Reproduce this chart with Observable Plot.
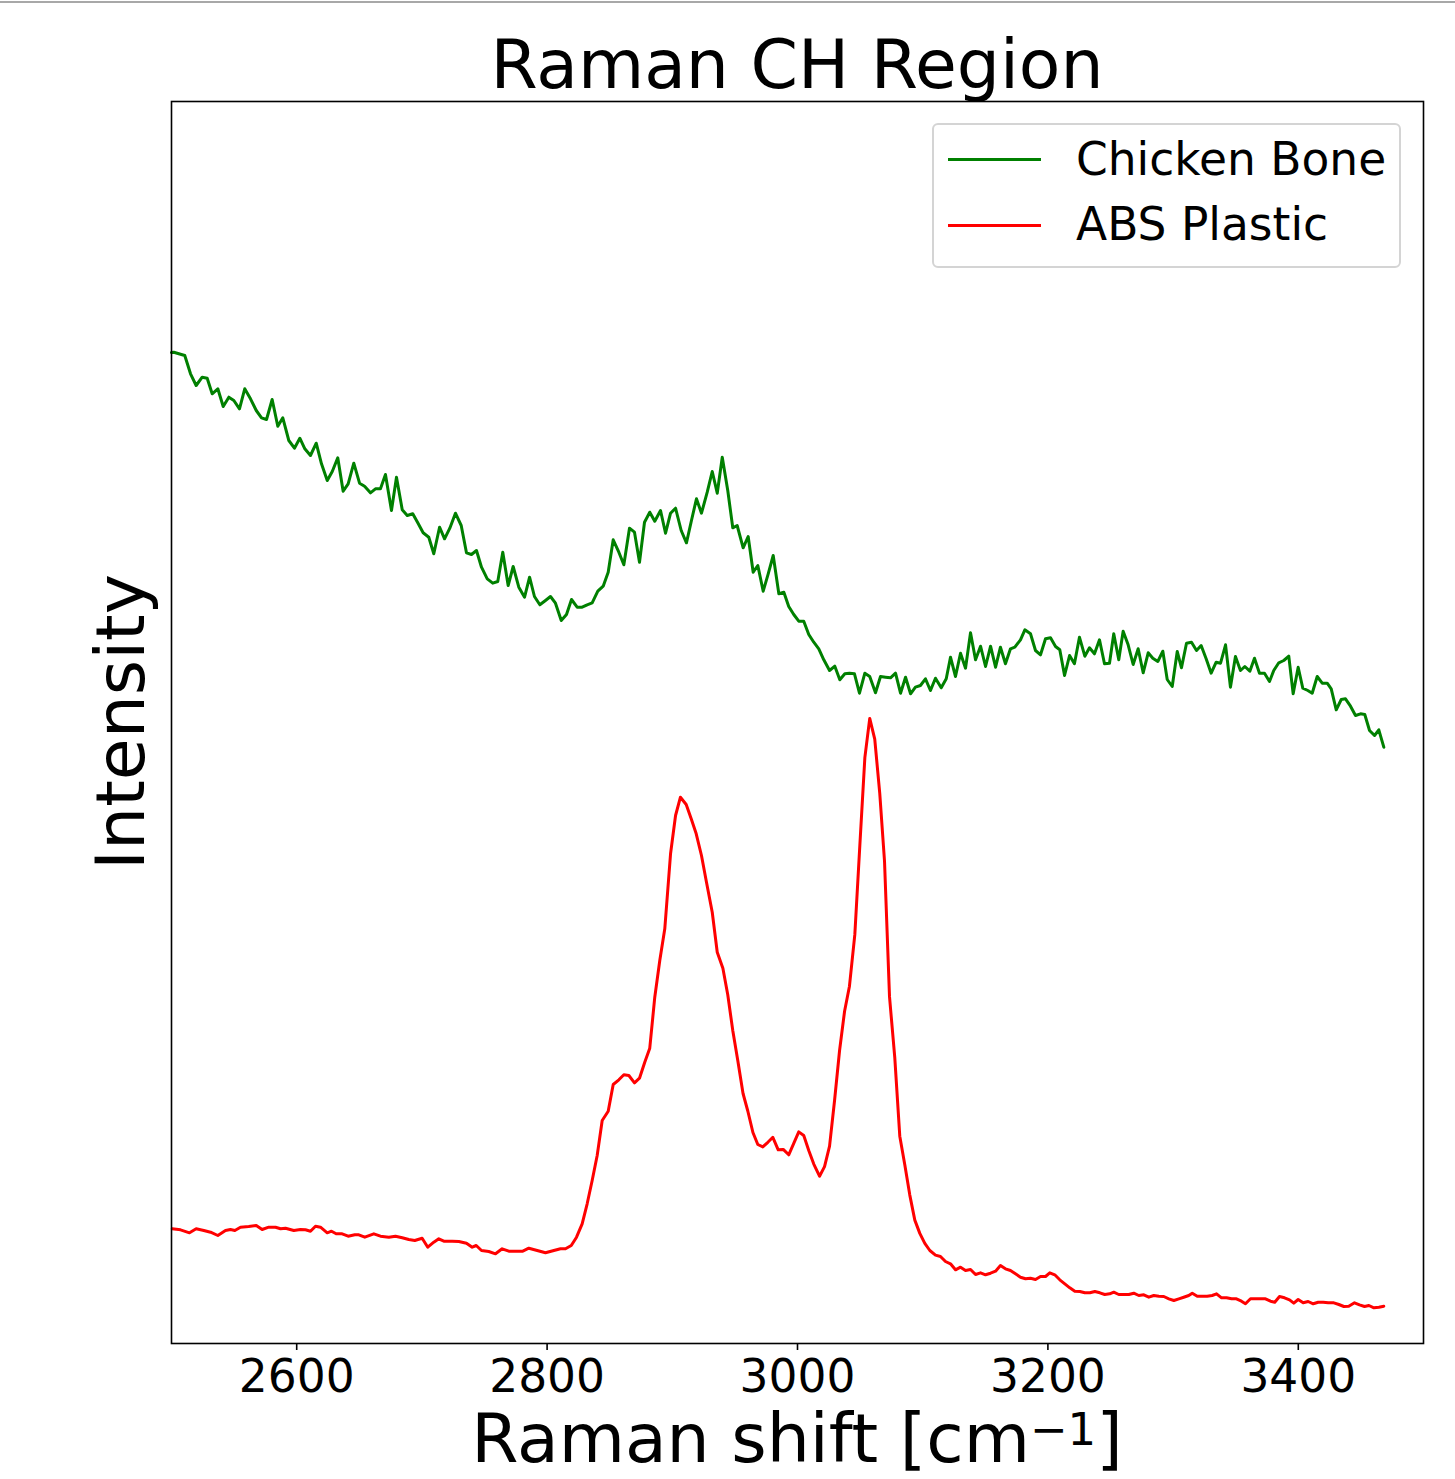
<!DOCTYPE html>
<html>
<head>
<meta charset="utf-8">
<script src="https://cdn.jsdelivr.net/npm/d3@7"></script>
<script src="https://cdn.jsdelivr.net/npm/@observablehq/plot@0.6"></script>
<style>
  html, body { margin: 0; padding: 0; background: #ffffff; }
  body { position: relative; width: 1455px; height: 1479px; overflow: hidden; font-family: "DejaVu Sans", sans-serif; color: #000; }
  #topline { position: absolute; left: 0; top: 1px; width: 1455px; height: 2px; background: #a8a8a8; }
  #title { position: absolute; left: 171px; top: 30.5px; width: 1252px; text-align: center; font-size: 68px; line-height: 68px; white-space: nowrap; }
  #chart { position: absolute; left: 0; top: 96px; }
  #xlabel { position: absolute; left: 171px; top: 1409px; width: 1252px; text-align: center; font-size: 68px; line-height: 60px; white-space: nowrap; }
  #xlabel .sup { display: inline-block; font-size: 45px; line-height: 24px; height: 24px; vertical-align: 17px; }
  #ylabel { position: absolute; left: -79.5px; top: 688px; width: 400px; height: 68px; text-align: center; font-size: 68px; line-height: 68px; white-space: nowrap; transform: rotate(-90deg); transform-origin: 50% 50%; }
  #legend { position: absolute; left: 932px; top: 123px; width: 465px; height: 141px; border: 2px solid #d4d4d4; border-radius: 6px; background: rgba(255,255,255,0.8); }
  .swatch { position: absolute; left: 948px; width: 93px; height: 3px; }
  .ltext { position: absolute; left: 1076px; font-size: 45.5px; line-height: 45.5px; white-space: nowrap; }
</style>
</head>
<body>
<div id="topline"></div>
<div id="title">Raman CH Region</div>
<div id="chart"></div>
<div id="xlabel">Raman shift [cm<span class="sup">−1</span>]</div>
<div id="ylabel">Intensity</div>
<div id="legend"></div>
<div class="swatch" style="top:158px;background:#008000"></div>
<div class="ltext" style="top:136.5px">Chicken Bone</div>
<div class="swatch" style="top:224px;background:#ff0000"></div>
<div class="ltext" style="top:201.5px">ABS Plastic</div>
<script>
// Series names and colours
const seriesNames = ["Chicken Bone", "ABS Plastic"];
const seriesColors = ["#008000", "#ff0000"];

// X tick labels (Raman shift, cm^-1)
const xTicks = [2600, 2800, 3000, 3200, 3400];

// Chicken Bone: Raman shift (cm^-1)
const greenShift = [2500.0, 2501.8, 2510.6, 2515.2, 2519.7, 2524.5, 2528.5, 2532.5, 2537.0, 2541.3, 2545.8, 2549.8, 2554.3, 2558.5, 2563.1, 2567.7, 2571.9, 2575.9, 2580.4, 2584.9, 2588.9, 2593.7, 2598.2, 2602.5, 2606.5, 2611.0, 2615.6, 2619.8, 2624.4, 2628.4, 2632.8, 2637.1, 2641.1, 2645.6, 2650.2, 2654.2, 2658.9, 2662.9, 2666.9, 2670.9, 2675.7, 2679.7, 2684.3, 2688.3, 2692.7, 2696.7, 2701.0, 2705.5, 2709.5, 2714.1, 2718.1, 2722.3, 2726.8, 2731.4, 2735.6, 2739.6, 2743.6, 2747.6, 2752.2, 2756.6, 2760.6, 2764.6, 2768.9, 2772.9, 2777.4, 2782.0, 2786.0, 2789.9, 2794.2, 2798.7, 2802.7, 2806.7, 2811.3, 2815.5, 2819.5, 2824.0, 2828.0, 2832.0, 2836.0, 2840.5, 2844.8, 2848.8, 2852.8, 2857.3, 2861.3, 2865.8, 2869.8, 2873.8, 2877.8, 2882.0, 2886.0, 2890.6, 2894.6, 2898.6, 2902.6, 2907.1, 2911.3, 2915.3, 2919.3, 2923.3, 2927.9, 2931.9, 2935.9, 2939.9, 2944.3, 2948.3, 2951.8, 2956.6, 2960.6, 2964.6, 2968.3, 2972.6, 2976.6, 2980.6, 2985.1, 2989.1, 2993.0, 2997.0, 3001.0, 3005.0, 3009.0, 3013.0, 3017.0, 3021.0, 3025.6, 3029.8, 3033.8, 3037.8, 3041.5, 3045.5, 3049.5, 3053.8, 3057.7, 3062.3, 3066.3, 3070.3, 3074.3, 3078.3, 3082.3, 3086.3, 3090.3, 3094.2, 3098.2, 3102.2, 3106.2, 3110.2, 3114.8, 3118.8, 3122.2, 3126.2, 3130.2, 3134.2, 3138.2, 3142.2, 3146.2, 3150.2, 3154.2, 3158.2, 3162.1, 3166.1, 3170.1, 3173.6, 3178.1, 3181.6, 3186.1, 3190.1, 3194.1, 3198.1, 3202.1, 3206.1, 3209.5, 3213.3, 3217.3, 3221.2, 3225.2, 3229.5, 3233.2, 3237.2, 3241.2, 3245.2, 3249.2, 3252.6, 3256.6, 3260.1, 3264.1, 3268.1, 3272.1, 3276.1, 3280.1, 3283.8, 3287.8, 3291.8, 3295.3, 3299.3, 3303.3, 3306.7, 3310.7, 3314.7, 3318.7, 3322.4, 3326.4, 3330.4, 3334.4, 3337.9, 3341.9, 3345.8, 3349.8, 3353.8, 3357.3, 3361.3, 3365.0, 3369.0, 3373.0, 3377.0, 3380.4, 3384.4, 3388.4, 3392.4, 3395.9, 3399.9, 3403.6, 3407.6, 3411.1, 3415.1, 3419.1, 3423.1, 3426.3, 3430.3, 3434.3, 3437.7, 3441.7, 3445.7, 3449.7, 3453.1, 3456.9, 3460.9, 3464.3, 3468.3];

// Chicken Bone: intensity (a.u.)
const greenIntensity = [991, 991.3, 988, 969.7, 958, 966.3, 965.3, 949.7, 954.7, 937, 946.3, 943, 934.7, 954.7, 944.7, 933, 925.7, 924, 944, 917.3, 925.7, 903, 895.3, 905.3, 894.7, 888, 900.3, 879.7, 863, 872, 885.7, 852.3, 859.7, 880.3, 860.3, 857.3, 850.7, 854.7, 854.7, 869, 833, 866.3, 833.7, 828, 829.7, 820.7, 810.7, 806.3, 789.7, 816.3, 804.7, 815.3, 830.3, 818, 790.7, 789, 793, 776.3, 764.7, 760.3, 762, 791.3, 758, 777, 756.3, 746.3, 766.3, 747, 738.7, 743, 747, 740.3, 723, 729, 744, 736.3, 736.3, 738.7, 740.7, 752.3, 757.3, 771.3, 803.7, 791.3, 778.7, 815.3, 811.3, 781.3, 821.3, 831.3, 822.3, 833, 810.3, 830.3, 835.3, 813, 800.7, 823, 844.7, 830.3, 851.3, 872, 850.3, 886.3, 853, 815.7, 818, 795.7, 807, 771.3, 778, 752.3, 769.7, 788, 749.7, 751.3, 737, 729, 722.3, 722.3, 709, 701.3, 694.7, 683.7, 673, 677.3, 663.7, 669.7, 670.3, 669.7, 650.3, 670.3, 667, 650.7, 667, 666.3, 665.7, 670.3, 650.3, 666.3, 649.7, 656.3, 658, 664.7, 653, 665.3, 655.7, 664.7, 686.3, 667, 690.3, 675.3, 710.7, 683.7, 697.3, 677, 697.3, 676.3, 696.3, 679.7, 694.7, 696.3, 703.7, 713.7, 709.7, 693, 688.7, 704.7, 705.7, 697, 693.7, 668, 688, 679.7, 706.3, 687.3, 695.7, 689.7, 703.7, 679.7, 680.3, 709.7, 683.7, 712.3, 698.7, 679, 694.7, 670.7, 690.7, 685.3, 682, 692.3, 664, 657, 692, 675.7, 700.3, 701.3, 693, 698, 684.7, 670.3, 681.3, 680.3, 698.7, 656.3, 687, 673, 677, 672.3, 685.3, 670.3, 670.3, 662, 673, 680.7, 683, 687.3, 649.7, 676.3, 655.3, 653, 650.3, 667, 660.3, 660.3, 654.7, 633.7, 644, 644.7, 637.3, 628, 629.7, 629, 613, 608, 613.7, 596.3];

// ABS Plastic: Raman shift (cm^-1)
const redShift = [2500.6, 2507.2, 2514.4, 2519.7, 2525.8, 2531.2, 2537.0, 2543.1, 2547.1, 2550.6, 2555.1, 2561.7, 2567.7, 2572.4, 2577.7, 2583.1, 2587.1, 2591.1, 2597.7, 2603.0, 2607.0, 2611.0, 2615.0, 2619.0, 2624.4, 2627.8, 2631.5, 2636.3, 2641.1, 2646.4, 2649.6, 2654.4, 2661.6, 2666.9, 2673.6, 2678.9, 2684.3, 2689.5, 2694.3, 2700.2, 2704.7, 2709.5, 2713.5, 2717.5, 2724.2, 2729.5, 2735.6, 2740.2, 2743.4, 2747.6, 2753.4, 2758.8, 2764.1, 2769.4, 2774.8, 2780.6, 2785.4, 2792.1, 2798.7, 2805.4, 2810.7, 2814.7, 2819.3, 2823.5, 2828.0, 2832.0, 2836.0, 2840.0, 2844.0, 2848.8, 2852.8, 2857.3, 2861.3, 2865.3, 2869.8, 2873.8, 2878.0, 2882.0, 2886.0, 2890.0, 2894.0, 2898.6, 2902.6, 2906.5, 2911.1, 2915.1, 2919.1, 2923.3, 2927.3, 2931.9, 2935.9, 2940.4, 2944.3, 2948.3, 2952.3, 2956.5, 2960.3, 2964.4, 2968.3, 2972.3, 2976.3, 2980.3, 2984.6, 2988.6, 2993.0, 2997.0, 3001.0, 3005.0, 3009.0, 3013.0, 3017.6, 3021.6, 3025.6, 3029.6, 3033.6, 3037.6, 3041.5, 3045.8, 3049.8, 3053.8, 3057.7, 3061.7, 3065.7, 3069.5, 3073.5, 3077.7, 3081.7, 3085.7, 3089.7, 3093.7, 3097.7, 3101.7, 3105.7, 3110.2, 3114.2, 3118.2, 3122.2, 3126.2, 3130.2, 3134.2, 3138.2, 3142.2, 3146.2, 3150.2, 3154.2, 3158.2, 3162.1, 3166.1, 3170.1, 3174.1, 3178.1, 3182.1, 3186.1, 3190.1, 3194.1, 3198.1, 3201.5, 3205.5, 3209.5, 3213.5, 3217.5, 3221.5, 3225.5, 3229.5, 3233.5, 3237.5, 3241.5, 3245.4, 3249.4, 3252.6, 3256.6, 3260.6, 3264.6, 3268.6, 3272.6, 3276.6, 3280.6, 3284.6, 3288.6, 3292.6, 3296.6, 3300.6, 3304.6, 3308.5, 3312.5, 3315.3, 3319.3, 3323.2, 3327.2, 3331.2, 3334.7, 3338.7, 3342.7, 3346.7, 3350.6, 3354.6, 3357.8, 3361.8, 3365.8, 3369.8, 3373.8, 3377.8, 3381.2, 3385.0, 3389.0, 3393.0, 3396.4, 3399.9, 3403.9, 3407.9, 3411.9, 3415.9, 3419.9, 3423.9, 3428.4, 3432.4, 3436.4, 3440.3, 3444.9, 3448.9, 3452.9, 3456.4, 3460.4, 3464.4, 3468.3];

// ABS Plastic: intensity (a.u.)
const redIntensity = [114.7, 113.7, 110.7, 114.7, 113, 111.3, 108, 113, 114, 113, 116.3, 117, 118, 114, 116.3, 116.3, 114.7, 115.3, 113, 114, 113.7, 112.3, 117.3, 116.3, 110.7, 112.3, 109.7, 109.7, 107.3, 108.7, 108.7, 106.3, 109.7, 107.3, 106.3, 107.3, 105.7, 104, 103, 105.3, 96.3, 101.3, 104.7, 102.3, 102.3, 102, 100.3, 96.3, 98, 93, 92, 89.7, 94.7, 92.3, 92.3, 92.3, 95.3, 93, 90.7, 93, 94.7, 94.7, 98, 106.3, 119.7, 139.7, 163, 188, 223, 232.3, 259, 263.7, 268.7, 268, 260.7, 265.3, 281.3, 295.3, 346.3, 383, 414.7, 489.7, 528, 546.3, 539, 524.7, 509.7, 488, 461.3, 431.3, 391.3, 375.3, 348.7, 313, 283, 250, 232.5, 211, 199, 196.6, 201.2, 206.2, 193.7, 194.1, 188.7, 200.1, 211.6, 208, 193, 179.4, 167.3, 176.9, 197.3, 243, 293, 332.3, 357.3, 409.1, 498.4, 585.9, 625.1, 604.4, 550.1, 482.3, 346.6, 285.9, 207.3, 178.7, 148.4, 123.4, 110.1, 100.1, 93, 88.4, 87, 82, 79.7, 73.7, 76.3, 73, 74, 69, 70.7, 68.7, 70.3, 72.3, 78, 74.7, 73, 69.7, 66.3, 64.7, 65.3, 64, 67, 67, 70.7, 68.7, 63.7, 59.7, 55.7, 52.3, 52, 50.7, 50.7, 52, 50.7, 49, 49.7, 51.3, 49, 49, 49, 50.3, 48, 48.7, 46.3, 48, 47.3, 47, 44.7, 43, 44.7, 46.3, 48, 50.3, 47.3, 47.3, 47.3, 48, 49.7, 45.7, 45.7, 44.7, 44.7, 42.3, 39.7, 44.7, 44.7, 44.7, 44.7, 42.3, 41.3, 47, 45.7, 43.7, 40.3, 44, 40.7, 42, 39.7, 41.3, 41.3, 40.7, 40.7, 39, 37, 37.3, 40.7, 38.7, 37, 38, 35.7, 36.3, 37.3];

function rows(shift, intensity, name) {
  const n = Math.min(shift.length, intensity.length);
  return d3.range(n).map(i => ({shift: shift[i], intensity: intensity[i], series: name}));
}
const green = rows(greenShift, greenIntensity, seriesNames[0]);
const red = rows(redShift, redIntensity, seriesNames[1]);

const chart = Plot.plot({
  width: 1455,
  height: 1383,
  marginTop: 5,
  marginLeft: 171,
  marginRight: 32,
  marginBottom: 136,
  style: {fontFamily: "'DejaVu Sans', sans-serif", fontSize: "45.5px", color: "#000", background: "transparent", overflow: "visible"},
  x: {domain: [2500, 3500]},
  y: {domain: [0, 1242], axis: null},
  marks: [
    Plot.line(green, {x: "shift", y: "intensity", stroke: seriesColors[0], strokeWidth: 3, strokeLinejoin: "round"}),
    Plot.line(red, {x: "shift", y: "intensity", stroke: seriesColors[1], strokeWidth: 3, strokeLinejoin: "round"}),
    Plot.frame({stroke: "#000", strokeWidth: 1.6}),
    Plot.axisX({ticks: xTicks, tickFormat: d3.format("d"), tickSize: 7, tickPadding: 9.5, strokeWidth: 1.6, label: null, fontSize: 45.5})
  ]
});
document.getElementById("chart").appendChild(chart);
</script>
</body>
</html>
